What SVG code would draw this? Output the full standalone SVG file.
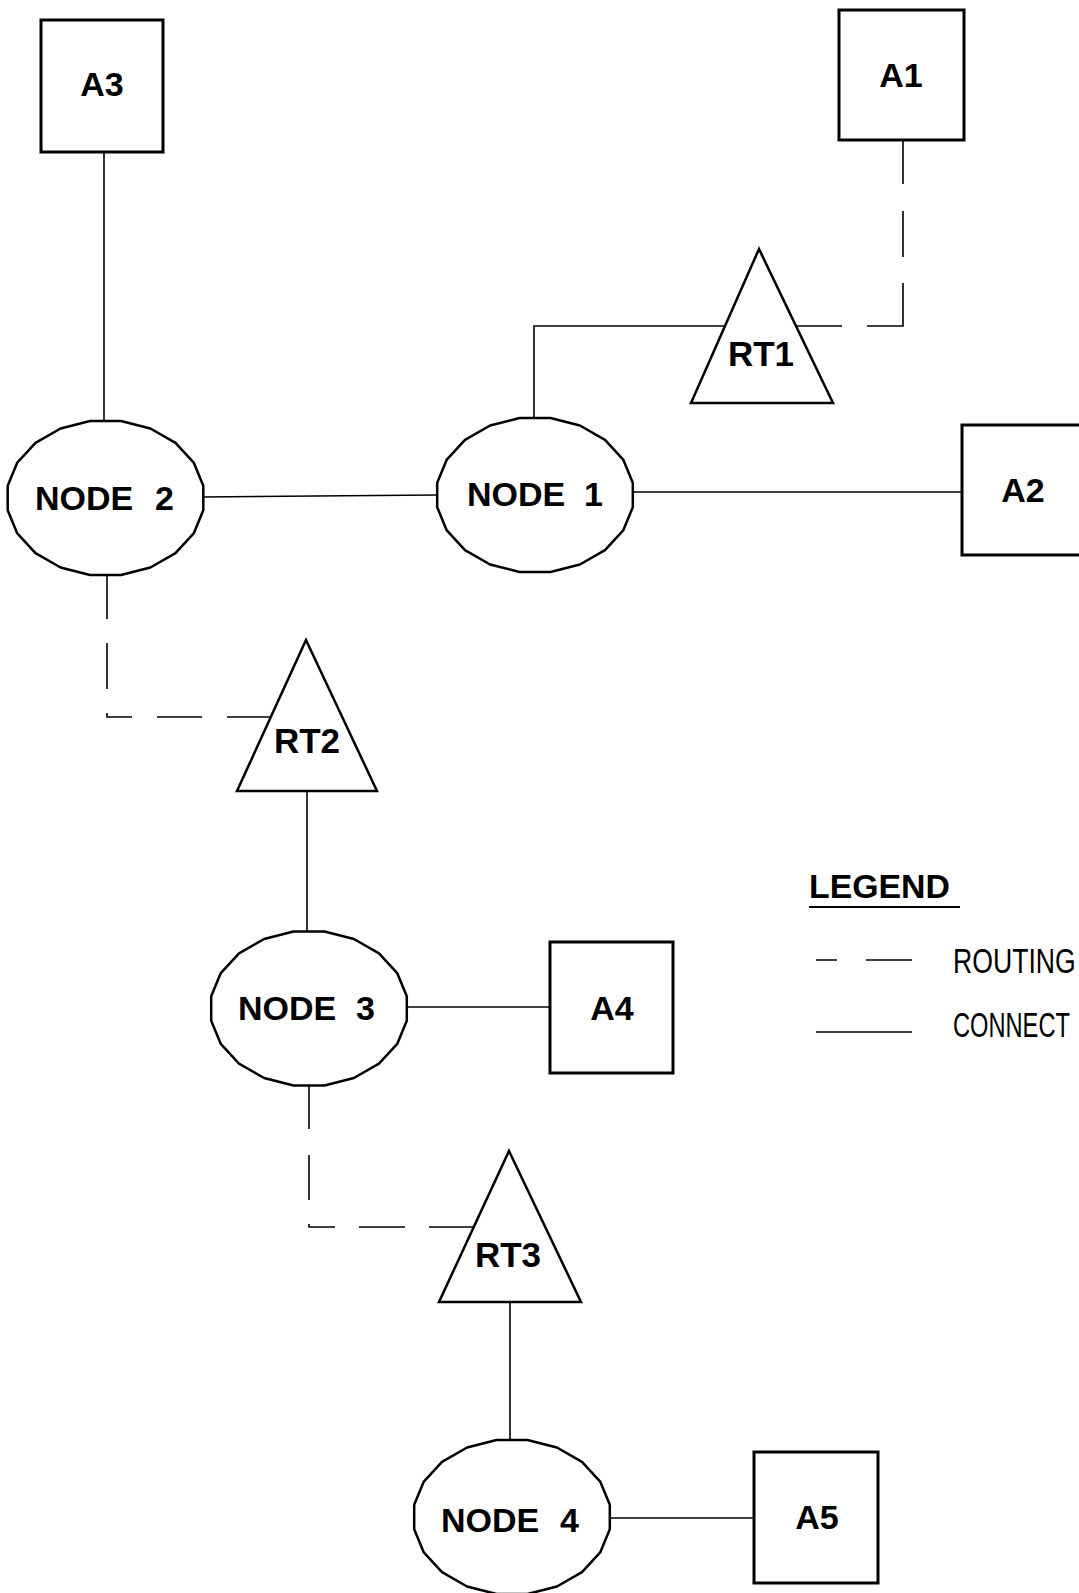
<svg xmlns="http://www.w3.org/2000/svg" xmlns:xlink="http://www.w3.org/1999/xlink" width="1079" height="1593" viewBox="0 0 1079 1593">
  <style>
    .box { fill: #fff; stroke: #000; stroke-width: 3; }
    .oval { fill: #fff; stroke: #000; stroke-width: 2.5; stroke-linejoin: round; }
    .tri { fill: #fff; stroke: #000; stroke-width: 2.5; stroke-linejoin: miter; }
    .lbl { font-family: "Liberation Sans", Arial, sans-serif; font-weight: bold; font-size: 34px; fill: #000; }
    .rt { font-family: "Liberation Sans", Arial, sans-serif; font-weight: bold; font-size: 35px; fill: #000; text-anchor: middle; }
    .conn { fill: none; stroke: #000; stroke-width: 1.6; }
    .route { fill: none; stroke: #000; stroke-width: 1.6; }
    .leg { font-family: "Liberation Sans", Arial, sans-serif; font-size: 36px; fill: #000; }
  </style>
  <defs>
    <polygon id="ovalShape" points="97.8,12.2 88.2,35.4 70,55.2 44.9,69.5 15.5,77 -15.5,77 -44.9,69.5 -70,55.2 -88.2,35.4 -97.8,12.2 -97.8,-12.2 -88.2,-35.4 -70,-55.2 -44.9,-69.5 -15.5,-77 15.5,-77 44.9,-69.5 70,-55.2 88.2,-35.4 97.8,-12.2"/>
  </defs>
  <rect x="0" y="0" width="1079" height="1593" fill="#fff"/>

  <g id="connectors">
    <!-- solid connections -->
    <path class="conn" d="M104,152 V421"/>
    <path class="conn" d="M204,497 L437,495"/>
    <path class="conn" d="M633,492 H962"/>
    <path class="conn" d="M534,417 V326 H725"/>
    <path class="conn" d="M307,791 V932"/>
    <path class="conn" d="M407,1007 H550"/>
    <path class="conn" d="M510,1302 V1443"/>
    <path class="conn" d="M610,1518 H754"/>
    <!-- routing (dashed) -->
    <path class="route" d="M796,326 H842 M867,326 H903 V283 M903,257 V211 M903,184 V140"/>
    <path class="route" d="M107,575 V619 M107,643 V689 M107,713 V717 H132 M157,717 H202 M227,717 H271"/>
    <path class="route" d="M309,1085 V1129 M309,1155 V1200 M309,1224 V1227 H335 M359,1227 H405 M429,1227 H474"/>
  </g>

  <g id="A3">
    <rect class="box" x="41" y="20" width="122" height="132"/>
    <text class="lbl" x="102" y="96" text-anchor="middle">A3</text>
  </g>
  <g id="A1">
    <rect class="box" x="839" y="10" width="125" height="130"/>
    <text class="lbl" x="901" y="87" text-anchor="middle">A1</text>
  </g>
  <g id="A2">
    <rect class="box" x="962" y="425" width="130" height="130"/>
    <text class="lbl" x="1023" y="502" text-anchor="middle">A2</text>
  </g>
  <g id="A4">
    <rect class="box" x="550" y="942" width="123" height="131"/>
    <text class="lbl" x="612" y="1020" text-anchor="middle">A4</text>
  </g>
  <g id="A5">
    <rect class="box" x="754" y="1452" width="124" height="131"/>
    <text class="lbl" x="817" y="1529" text-anchor="middle">A5</text>
  </g>

  <g id="node2">
    <use xlink:href="#ovalShape" href="#ovalShape" class="oval" transform="translate(105.5,498)"/>
    <text class="lbl"><tspan x="35" y="510">NODE</tspan> <tspan x="155" y="510">2</tspan></text>
  </g>
  <g id="node1">
    <use xlink:href="#ovalShape" href="#ovalShape" class="oval" transform="translate(535,495)"/>
    <text class="lbl"><tspan x="467" y="506">NODE</tspan> <tspan x="584" y="506">1</tspan></text>
  </g>
  <g id="node3">
    <use xlink:href="#ovalShape" href="#ovalShape" class="oval" transform="translate(309,1008.5)"/>
    <text class="lbl"><tspan x="238" y="1020">NODE</tspan> <tspan x="356" y="1020">3</tspan></text>
  </g>
  <g id="node4">
    <use xlink:href="#ovalShape" href="#ovalShape" class="oval" transform="translate(512,1517)"/>
    <text class="lbl"><tspan x="441" y="1532">NODE</tspan> <tspan x="560" y="1532">4</tspan></text>
  </g>

  <g id="RT1">
    <polygon class="tri" points="759,249 833,403 691,403"/>
    <text class="rt" x="761" y="366">RT1</text>
  </g>
  <g id="RT2">
    <polygon class="tri" points="306,640 377,791 237,791"/>
    <text class="rt" x="307" y="753">RT2</text>
  </g>
  <g id="RT3">
    <polygon class="tri" points="509,1151 581,1302 439,1302"/>
    <text class="rt" x="508" y="1267">RT3</text>
  </g>

  <g id="legend">
    <text class="lbl" x="809" y="898" textLength="141" lengthAdjust="spacingAndGlyphs">LEGEND</text>
    <line x1="809" y1="907" x2="960" y2="907" stroke="#000" stroke-width="2.2"/>
    <path class="route" d="M816,960 H837 M866,960 H912"/>
    <path class="conn" d="M816,1032 H912"/>
    <g transform="translate(953,0) scale(0.74,1)">
      <text class="leg" x="0" y="973">ROUTING</text>
      <text class="leg" x="0" y="1037" textLength="158" lengthAdjust="spacingAndGlyphs">CONNECT</text>
    </g>
  </g>
</svg>
